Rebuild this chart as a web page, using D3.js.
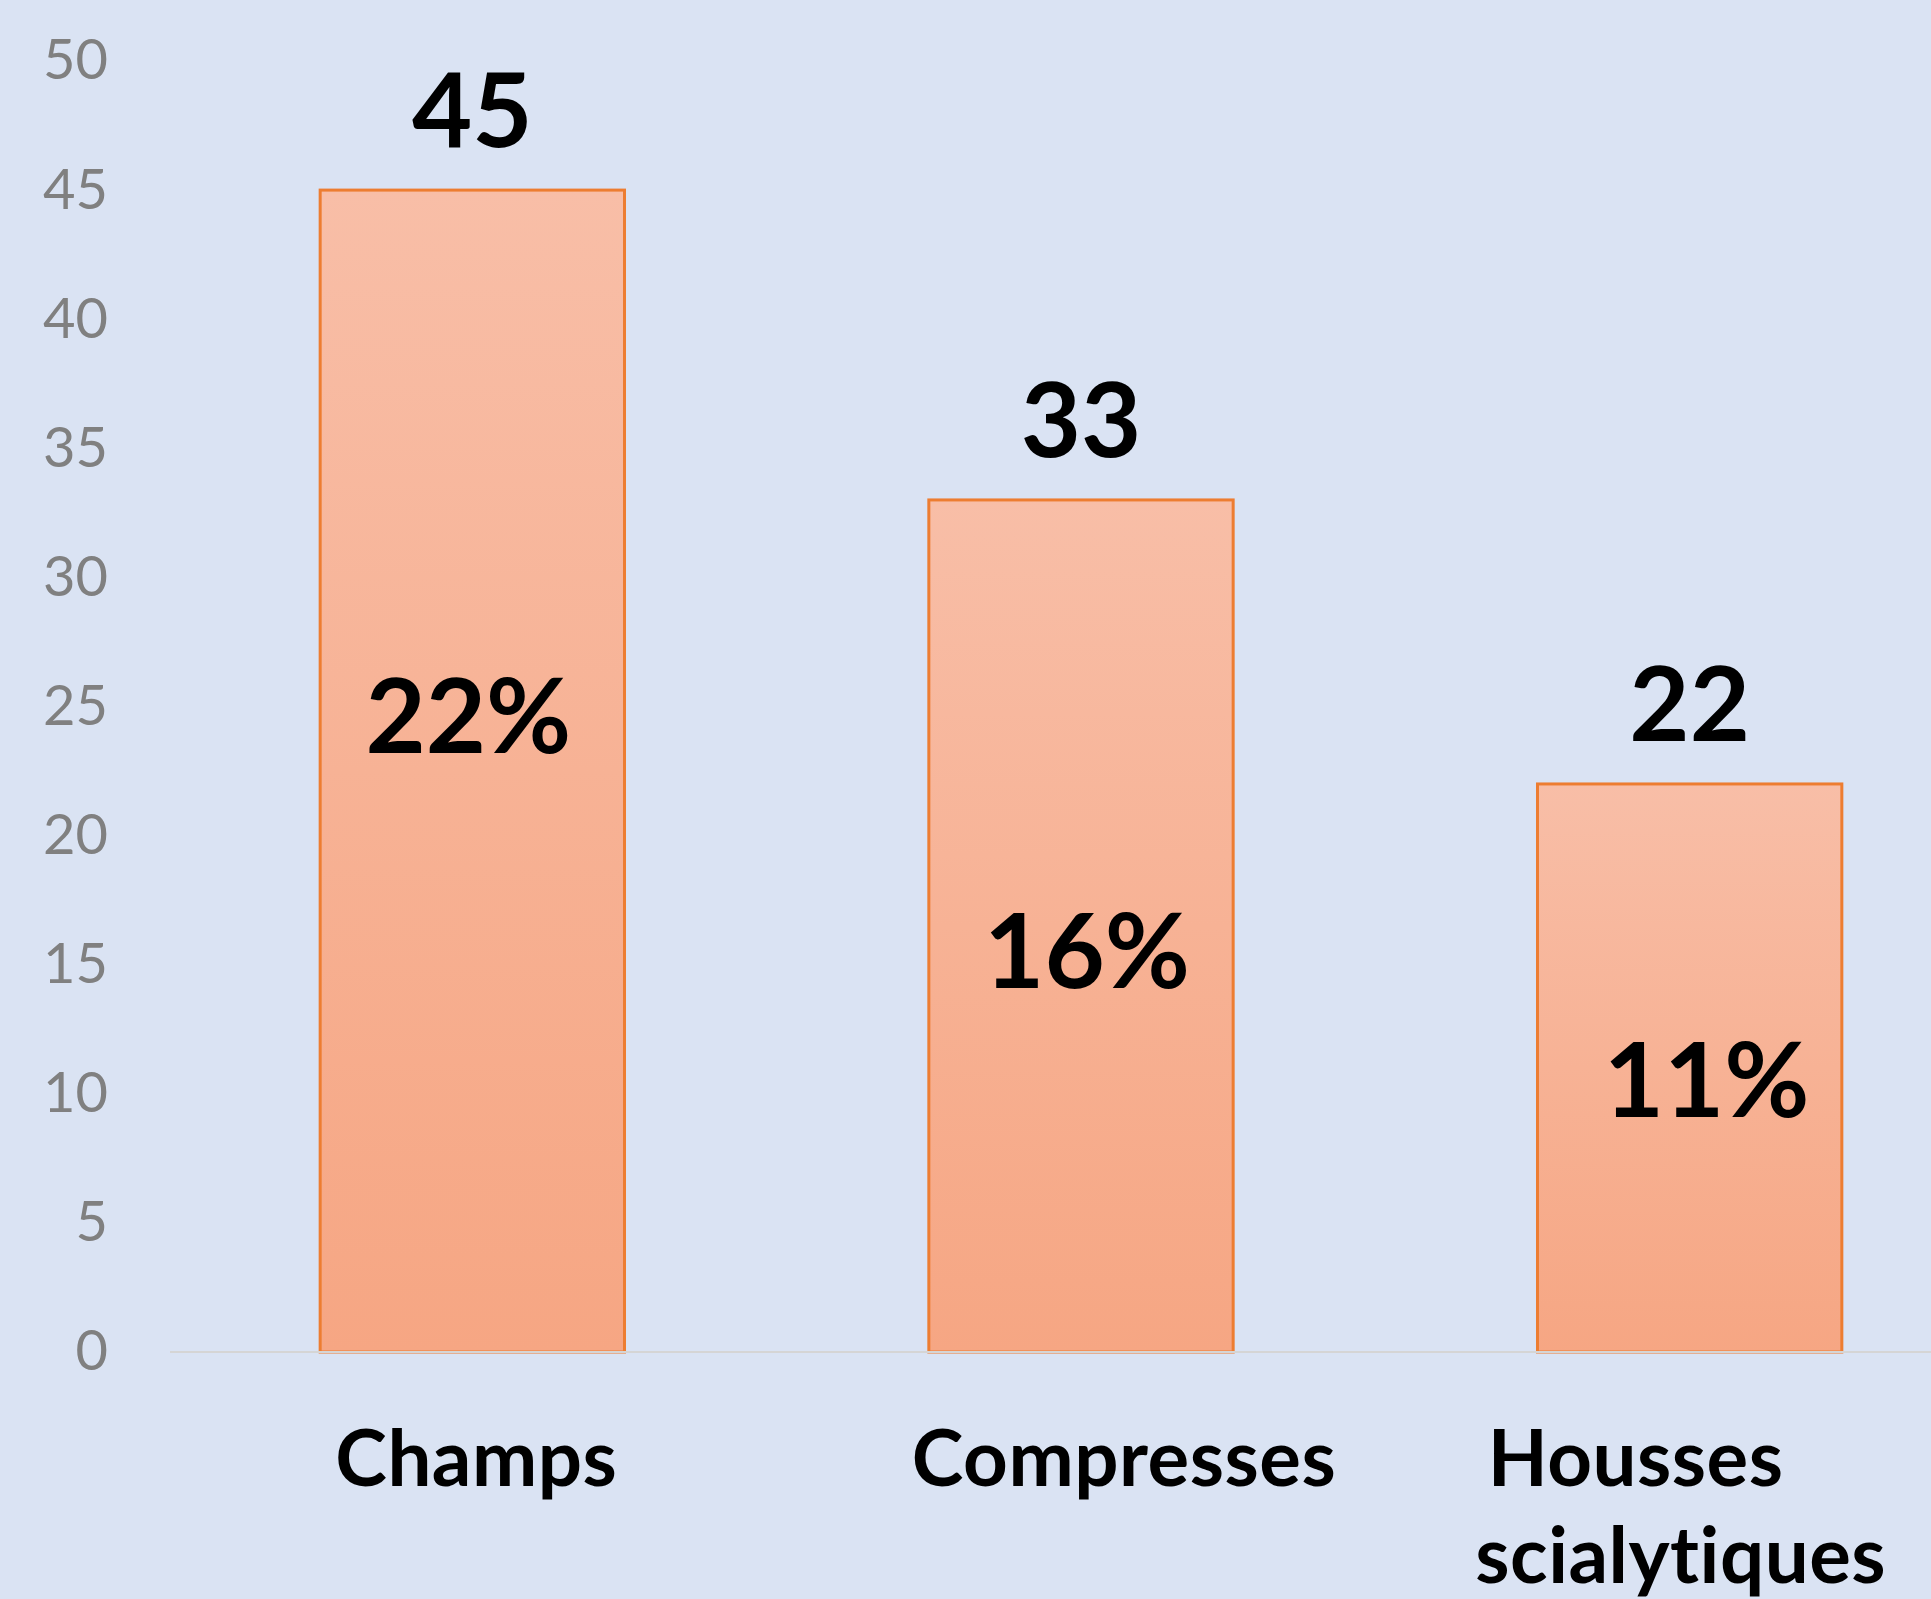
<!DOCTYPE html>
<html>
<head>
<meta charset="utf-8">
<script src="https://cdn.jsdelivr.net/npm/d3@7"></script>
<style>
  html, body { margin: 0; padding: 0; background: #DAE3F3; }
  svg { display: block; }
  text { font-variant-ligatures: none; font-feature-settings: "liga" 0, "clig" 0; }
</style>
</head>
<body>
<svg id="chart" width="1931" height="1599"></svg>
<script>
// ---- Data ----
const categories = ["Champs", "Compresses", "Housses\nscialytiques"];
const values = [45, 33, 22];
const percentLabels = ["22%", "16%", "11%"];
const yTickValues = [0, 5, 10, 15, 20, 25, 30, 35, 40, 45, 50];

// ---- Layout ----
const W = 1931, H = 1599;
const FONT = "Lato, 'Open Sans', 'Liberation Sans', sans-serif";
const pctLabelAt = [23.2, 14.1, 9.1];      // label baseline, in data units
const pctLabelDx = [-4, 6, 17];
const catLabelDx = [[4], [43], [-54, -9]];
const catLineBaselines = [1486, 1583];

const svg = d3.select("#chart");
svg.append("rect").attr("width", W).attr("height", H).attr("fill", "#DAE3F3");

const x = d3.scaleBand().domain(categories).range([168, 1994])
  .paddingInner(0.5).paddingOuter(0.25);
const y = d3.scaleLinear().domain([0, 50]).range([1352, 61]);

const defs = svg.append("defs");
const grad = defs.append("linearGradient").attr("id", "barGrad")
  .attr("x1", 0).attr("y1", 0).attr("x2", 0).attr("y2", 1);
grad.append("stop").attr("offset", "0%").attr("stop-color", "#F8BEA7");
grad.append("stop").attr("offset", "100%").attr("stop-color", "#F6A683");

// Y axis (labels only)
const yAxis = d3.axisLeft(y).tickValues(yTickValues).tickSize(0).tickPadding(0);
const gy = svg.append("g").attr("transform", "translate(108,0)").call(yAxis);
gy.select(".domain").remove();
gy.selectAll("text")
  .attr("font-family", FONT)
  .attr("font-size", 56)
  .attr("fill", "#808080");

// Bars
svg.append("g").selectAll("rect").data(values).join("rect")
  .attr("x", (d, i) => x(categories[i]))
  .attr("y", d => y(d))
  .attr("width", x.bandwidth())
  .attr("height", d => y(0) - y(d))
  .attr("fill", "url(#barGrad)")
  .attr("stroke", "#ED7D31")
  .attr("stroke-width", 3);

// Baseline
svg.append("line")
  .attr("x1", 170).attr("x2", W)
  .attr("y1", y(0)).attr("y2", y(0))
  .attr("stroke", "#D5D5D5").attr("stroke-width", 2);

// Value labels
svg.append("g").selectAll("text").data(values).join("text")
  .attr("x", (d, i) => x(categories[i]) + x.bandwidth() / 2)
  .attr("y", d => y(d) - 43)
  .attr("text-anchor", "middle")
  .attr("font-family", FONT)
  .attr("font-weight", 700)
  .attr("font-size", 104)
  .attr("fill", "#000")
  .text(d => d);

// Percent labels
svg.append("g").selectAll("text").data(percentLabels).join("text")
  .attr("x", (d, i) => x(categories[i]) + x.bandwidth() / 2 + pctLabelDx[i])
  .attr("y", (d, i) => y(pctLabelAt[i]))
  .attr("text-anchor", "middle")
  .attr("font-family", FONT)
  .attr("font-weight", 700)
  .attr("font-size", 104)
  .attr("fill", "#000")
  .text(d => d);

// Category labels
const cat = svg.append("g").selectAll("text").data(categories).join("text")
  .attr("text-anchor", "middle")
  .attr("font-family", FONT)
  .attr("font-weight", 700)
  .attr("font-size", 78)
  .attr("letter-spacing", 0.5)
  .attr("fill", "#000");
cat.each(function (d, i) {
  const lines = d.split("\n");
  const cx = x(d) + x.bandwidth() / 2;
  d3.select(this).selectAll("tspan").data(lines).join("tspan")
    .attr("x", (l, j) => cx + catLabelDx[i][j])
    .attr("y", (l, j) => catLineBaselines[j])
    .text(l => l);
});
</script>
</body>
</html>
